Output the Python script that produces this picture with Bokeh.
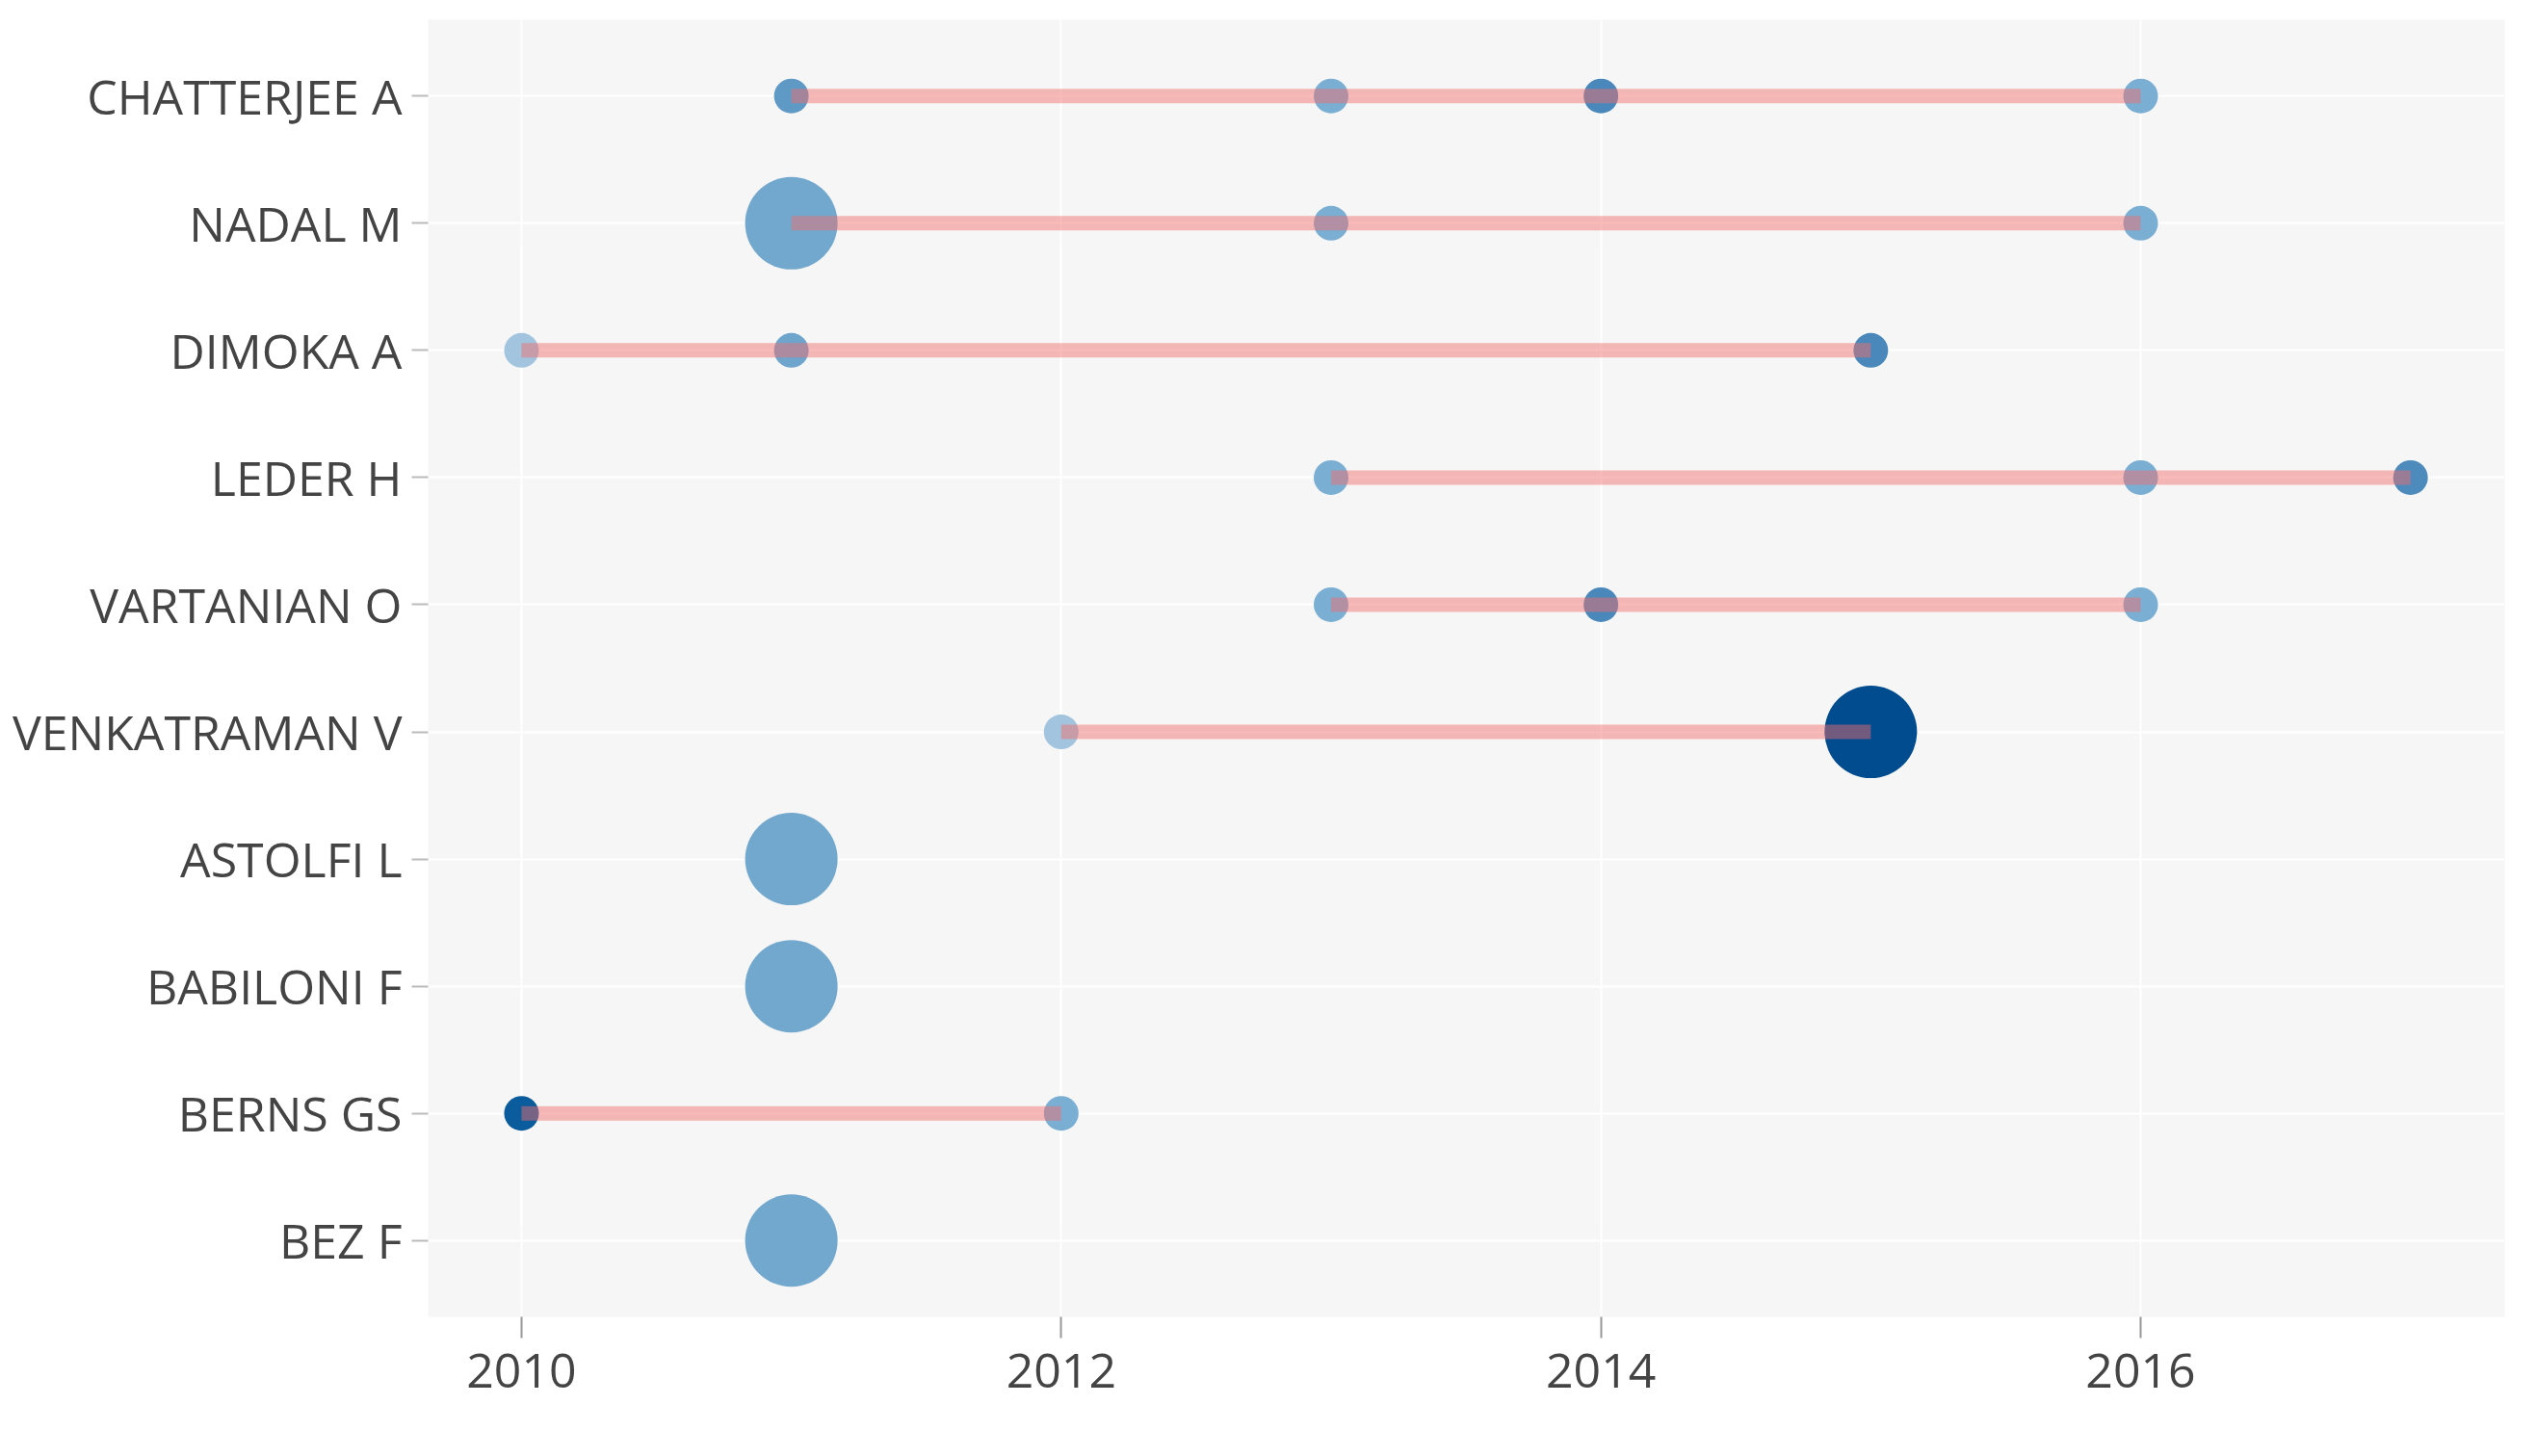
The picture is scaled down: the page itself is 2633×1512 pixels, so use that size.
from bokeh.plotting import figure
from bokeh.models import (ColumnDataSource, FactorRange, Range1d, LinearColorMapper,
                          FixedTicker)
from bokeh.transform import transform
from bokeh.embed import file_html
from bokeh.resources import INLINE

# ---- data -------------------------------------------------------------
authors = ["CHATTERJEE A", "NADAL M", "DIMOKA A", "LEDER H", "VARTANIAN O",
           "VENKATRAMAN V", "ASTOLFI L", "BABILONI F", "BERNS GS", "BEZ F"]

point_author = ["CHATTERJEE A", "CHATTERJEE A", "CHATTERJEE A", "CHATTERJEE A",
                "NADAL M", "NADAL M", "NADAL M",
                "DIMOKA A", "DIMOKA A", "DIMOKA A",
                "LEDER H", "LEDER H", "LEDER H",
                "VARTANIAN O", "VARTANIAN O", "VARTANIAN O",
                "VENKATRAMAN V", "VENKATRAMAN V",
                "ASTOLFI L", "BABILONI F",
                "BERNS GS", "BERNS GS",
                "BEZ F"]
point_year = [2011, 2013, 2014, 2016,
              2011, 2013, 2016,
              2010, 2011, 2015,
              2013, 2016, 2017,
              2013, 2014, 2016,
              2012, 2015,
              2011, 2011,
              2010, 2012,
              2011]
point_articles = [1, 1, 1, 1,
                  3, 1, 1,
                  1, 1, 1,
                  1, 1, 1,
                  1, 1, 1,
                  1, 3,
                  3, 3,
                  1, 1,
                  3]
point_citations = [34, 20, 45, 20,
                   24, 20, 20,
                   2, 26, 45,
                   20, 20, 43,
                   20, 45, 20,
                   2, 100,
                   24, 24,
                   85, 20,
                   24]

x_ticks = [2010, 2012, 2014, 2016]

# ---- style helpers ----------------------------------------------------
def hex2rgb(h):
    h = h.lstrip("#")
    return tuple(int(h[i:i + 2], 16) for i in (0, 2, 4))

stops = [(0.0, "#a6c6e0"), (0.2, "#7aaed2"), (0.45, "#4a88bb"),
         (0.85, "#0a5c9c"), (1.0, "#004c8f")]
palette = []
for i in range(256):
    t = i / 255
    for (t0, c0), (t1, c1) in zip(stops[:-1], stops[1:]):
        if t0 <= t <= t1:
            f = (t - t0) / (t1 - t0)
            a, b = hex2rgb(c0), hex2rgb(c1)
            rgb = tuple(round(a[k] + (b[k] - a[k]) * f) for k in range(3))
            palette.append("#%02x%02x%02x" % rgb)
            break

sizes = [36 + 30 * (n - 1) for n in point_articles]

pts = ColumnDataSource(dict(author=point_author, year=point_year,
                            citations=point_citations, size=sizes))

# segments from first to last year per author
seg_a, seg_x0, seg_x1 = [], [], []
for a in authors:
    ys = [y for au, y in zip(point_author, point_year) if au == a]
    if len(ys) > 1:
        seg_a.append(a)
        seg_x0.append(min(ys))
        seg_x1.append(max(ys))
segs = ColumnDataSource(dict(author=seg_a, x0=seg_x0, x1=seg_x1))

# ---- figure -----------------------------------------------------------
p = figure(width=2617, height=1496, output_backend="svg", toolbar_location=None,
           y_range=FactorRange(factors=list(reversed(authors)),
                               range_padding=0.1, range_padding_units="absolute"),
           x_range=Range1d(2009.654, 2017.349))
p.min_border_left = 444
p.min_border_right = 17
p.min_border_top = 20
p.min_border_bottom = 129
p.background_fill_color = "#f6f6f6"
p.border_fill_color = "white"
p.outline_line_color = None

mapper = LinearColorMapper(palette=palette, low=0, high=100)
p.scatter(x="year", y="author", size="size", source=pts,
          fill_color=transform("citations", mapper), line_color=None)
p.segment(x0="x0", y0="author", x1="x1", y1="author", source=segs,
          line_color="#f26d6d", line_alpha=0.47, line_width=15, line_cap="butt")

p.xgrid.grid_line_color = "white"
p.xgrid.grid_line_width = 2
p.ygrid.grid_line_color = "white"
p.ygrid.grid_line_width = 2

p.xaxis.ticker = FixedTicker(ticks=x_ticks)
for ax in (p.xaxis[0], p.yaxis[0]):
    ax.axis_line_color = None
    ax.major_tick_in = 0
    ax.minor_tick_line_color = None
    ax.major_label_text_font = "Open Sans"
    ax.major_label_text_font_size = "50px"
    ax.major_label_text_color = "#444444"
    ax.major_tick_line_width = 2

p.xaxis.major_tick_out = 22
p.xaxis.major_tick_line_color = "#999999"
p.xaxis.major_label_standoff = 16
p.yaxis.major_tick_out = 17
p.yaxis.major_tick_line_color = "#bbbbbb"
p.yaxis.major_label_standoff = 10

open("out.html", "w").write(file_html(p, INLINE))
